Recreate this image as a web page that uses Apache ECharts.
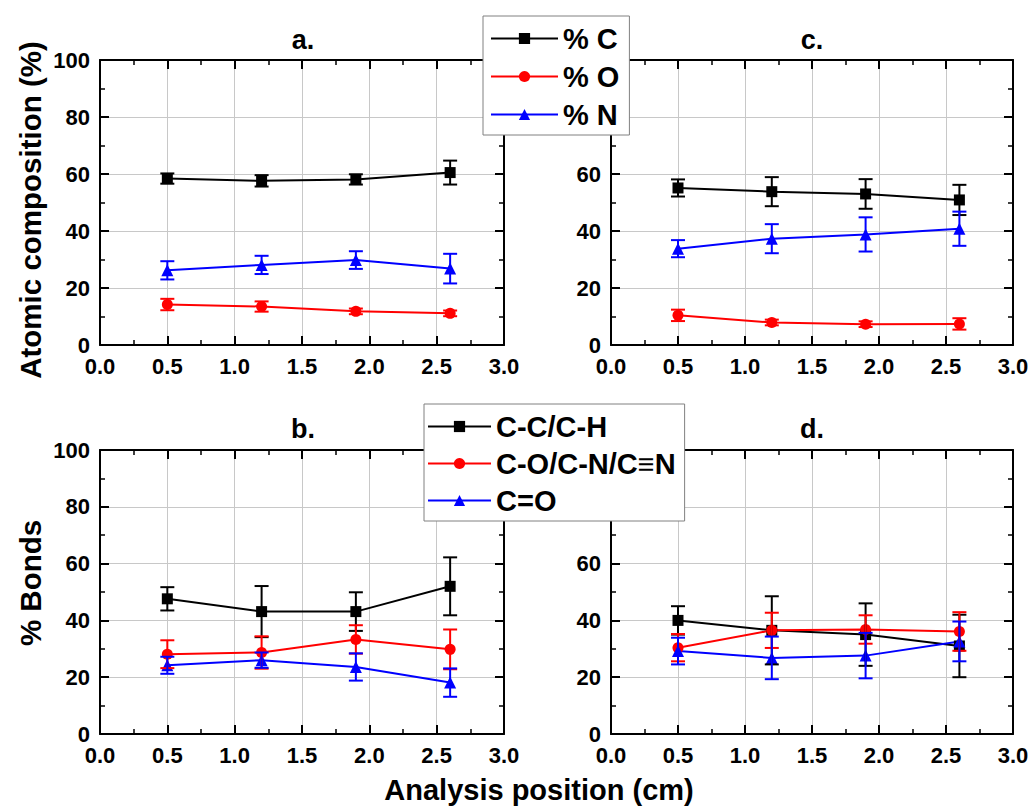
<!DOCTYPE html>
<html>
<head>
<meta charset="utf-8">
<script src="https://cdn.jsdelivr.net/npm/echarts@6/dist/echarts.min.js"></script>
<style>html,body{margin:0;padding:0;background:#fff}#c{width:1032px;height:809px}</style>
</head>
<body>
<div id="c"></div>
<script>
// ---------- DATA ----------
const xPositions = [0.5, 1.2, 1.9, 2.6];
const xTickLabels = ['0.0', '0.5', '1.0', '1.5', '2.0', '2.5', '3.0'];
const atomicNames = ['% C', '% O', '% N'];
const bondNames = ['C-C/C-H', 'C-O/C-N/C\u2261N', 'C=O'];
const panelTitles = ['a.', 'c.', 'b.', 'd.'];

// panel a (atomic composition)
const aC = [58.4, 57.6, 58.1, 60.5];
const aCErr = [1.8, 2.0, 1.8, 4.2];
const aO = [14.2, 13.5, 11.8, 11.1];
const aOErr = [2.0, 1.8, 1.0, 1.0];
const aN = [26.2, 28.1, 29.8, 26.8];
const aNErr = [3.2, 3.2, 3.1, 5.2];

// panel c (atomic composition)
const cC = [55.1, 53.8, 53.0, 50.9];
const cCErr = [3.0, 5.1, 5.2, 5.3];
const cO = [10.4, 7.9, 7.3, 7.4];
const cOErr = [2.0, 1.0, 1.0, 2.0];
const cN = [33.8, 37.3, 38.8, 40.8];
const cNErr = [3.0, 5.1, 6.0, 6.0];

// panel b (bonds)
const bCC = [47.6, 43.1, 43.1, 52.0];
const bCCErr = [4.1, 9.0, 6.8, 10.2];
const bCO = [28.1, 28.7, 33.3, 29.8];
const bCOErr = [4.9, 5.7, 5.0, 7.0];
const bCdO = [24.2, 26.0, 23.6, 18.1];
const bCdOErr = [3.0, 2.7, 4.8, 5.0];

// panel d (bonds)
const dCC = [40.0, 36.5, 35.0, 31.0];
const dCCErr = [5.0, 12.0, 11.0, 11.0];
const dCO = [30.4, 36.5, 36.8, 36.1];
const dCOErr = [4.8, 6.2, 5.0, 6.8];
const dCdO = [29.2, 26.8, 27.6, 32.6];
const dCdOErr = [4.7, 7.5, 8.0, 7.0];

// ---------- STYLE / LAYOUT ----------
const FONT = '"Liberation Sans", Arial, Helvetica, sans-serif';
const colors = ['#000000', '#ff0000', '#0000ff'];
const symbols = ['rect', 'circle', 'triangle'];
const symbolSizes = [11, 11, 12];

const grids = [
  {left: 100, top: 60, width: 404, height: 285},   // a
  {left: 611, top: 60, width: 402, height: 285},   // c
  {left: 100, top: 450, width: 404, height: 284},  // b
  {left: 611, top: 450, width: 402, height: 284}   // d
];
// right-hand panels: the legend box covers the upper y labels
const coveredLabel = [false, true, false, true];

const panels = [
  {names: atomicNames, vals: [aC, aO, aN], errs: [aCErr, aOErr, aNErr]},
  {names: atomicNames, vals: [cC, cO, cN], errs: [cCErr, cOErr, cNErr]},
  {names: bondNames, vals: [bCC, bCO, bCdO], errs: [bCCErr, bCOErr, bCdOErr]},
  {names: bondNames, vals: [dCC, dCO, dCdO], errs: [dCCErr, dCOErr, dCdOErr]}
];

const axisLineStyle = {color: '#000', width: 2};
const tickStyle = {color: '#000', width: 2};
const labelStyle = {color: '#000', fontSize: 22, fontWeight: 'bold', fontFamily: FONT};

const xAxes = [], yAxes = [];
grids.forEach((g, gi) => {
  const xBase = {
    type: 'value', gridIndex: gi, min: 0, max: 3, interval: 0.5,
    axisLine: {show: true, onZero: false, lineStyle: axisLineStyle},
    axisTick: {show: true, inside: true, length: 9, lineStyle: tickStyle},
    minorTick: {show: true, splitNumber: 2, length: 5, lineStyle: {color: '#000', width: 1.5}}
  };
  xAxes.push(Object.assign({}, xBase, {
    position: 'bottom',
    axisLabel: Object.assign({show: true, margin: 10, showMinLabel: true, showMaxLabel: true,
      formatter: v => xTickLabels[Math.round(v / 0.5)] || ''}, labelStyle),
    splitLine: {show: true, lineStyle: {color: '#c8c8c8', width: 1}}
  }));
  xAxes.push(Object.assign({}, xBase, {
    position: 'top', axisLabel: {show: false}, splitLine: {show: false}
  }));
  const yBase = {
    type: 'value', gridIndex: gi, min: 0, max: 100, interval: 20,
    axisLine: {show: true, onZero: false, lineStyle: axisLineStyle},
    axisTick: {show: true, inside: true, length: 9, lineStyle: tickStyle},
    minorTick: {show: true, splitNumber: 2, length: 5, lineStyle: {color: '#000', width: 1.5}}
  };
  yAxes.push(Object.assign({}, yBase, {
    position: 'left',
    axisLabel: Object.assign({show: true, margin: 10, showMinLabel: true, showMaxLabel: true,
      formatter: v => (coveredLabel[gi] && v >= 80) ? '' : String(v)}, labelStyle),
    splitLine: {show: true, lineStyle: {color: '#c8c8c8', width: 1}}
  }));
  yAxes.push(Object.assign({}, yBase, {
    position: 'right', axisLabel: {show: false}, splitLine: {show: false}
  }));
});

function errSeries(gi, vals, errs, color) {
  return {
    type: 'custom', xAxisIndex: 2 * gi, yAxisIndex: 2 * gi, z: 3, silent: true,
    name: 'err' + gi + color,
    data: xPositions.map((x, i) => [x, vals[i], errs[i]]),
    renderItem(params, api) {
      const x = api.value(0), y = api.value(1), e = api.value(2);
      const t = api.coord([x, y + e]), b = api.coord([x, y - e]);
      const hw = 7;
      const st = {stroke: color, lineWidth: 2};
      return {type: 'group', children: [
        {type: 'line', shape: {x1: t[0], y1: t[1], x2: b[0], y2: b[1]}, style: st},
        {type: 'line', shape: {x1: t[0] - hw, y1: t[1], x2: t[0] + hw, y2: t[1]}, style: st},
        {type: 'line', shape: {x1: b[0] - hw, y1: b[1], x2: b[0] + hw, y2: b[1]}, style: st}
      ]};
    }
  };
}

const series = [];
panels.forEach((p, gi) => {
  p.vals.forEach((vals, si) => {
    series.push({
      type: 'line', name: p.names[si], xAxisIndex: 2 * gi, yAxisIndex: 2 * gi, z: 2,
      data: xPositions.map((x, i) => [x, vals[i]]),
      symbol: symbols[si], symbolSize: symbolSizes[si], showSymbol: true,
      lineStyle: {color: colors[si], width: 2},
      itemStyle: {color: colors[si]},
      animation: false, silent: true
    });
    series.push(errSeries(gi, vals, p.errs[si], colors[si]));
  });
});

const legendText = {fontSize: 29, fontWeight: 'bold', fontFamily: FONT, color: '#000', lineHeight: 29};
const legends = [
  {data: atomicNames, orient: 'vertical', left: 483, top: 16, itemWidth: 67, itemHeight: 14, itemGap: 9,
   padding: [8, 10, 6, 7], backgroundColor: '#fff', borderColor: '#808080', borderWidth: 1,
   textStyle: legendText, selectedMode: false, z: 10},
  {data: bondNames, orient: 'vertical', left: 424, top: 404, itemWidth: 63, itemHeight: 14, itemGap: 8,
   padding: [8, 9, 6, 3], backgroundColor: '#fff', borderColor: '#808080', borderWidth: 1,
   textStyle: legendText, selectedMode: false, z: 10}
];

const titlePos = [[303, 40], [812, 40], [303, 429], [812, 429]];
function txt(s, x, y, size, rot) {
  return {type: 'text', x: x, y: y, rotation: rot || 0, z: 20,
    style: {text: s, fontSize: size, fontWeight: 'bold', fontFamily: FONT, fill: '#000',
      align: 'center', verticalAlign: 'middle'}};
}
const graphics = panelTitles.map((t, i) => txt(t, titlePos[i][0], titlePos[i][1], 27));
graphics.push(txt('Atomic composition (%)', 30, 210, 29.5, Math.PI / 2));
graphics.push(txt('% Bonds', 30, 583, 29.5, Math.PI / 2));
graphics.push(txt('Analysis position (cm)', 539, 790, 29));

const chart = echarts.init(document.getElementById('c'), null, {renderer: 'svg'});
chart.setOption({
  animation: false,
  backgroundColor: '#fff',
  grid: grids.map(g => Object.assign({outerBoundsMode: 'none', containLabel: false}, g)),
  xAxis: xAxes,
  yAxis: yAxes,
  legend: legends,
  series: series,
  graphic: graphics
});
</script>
</body>
</html>
